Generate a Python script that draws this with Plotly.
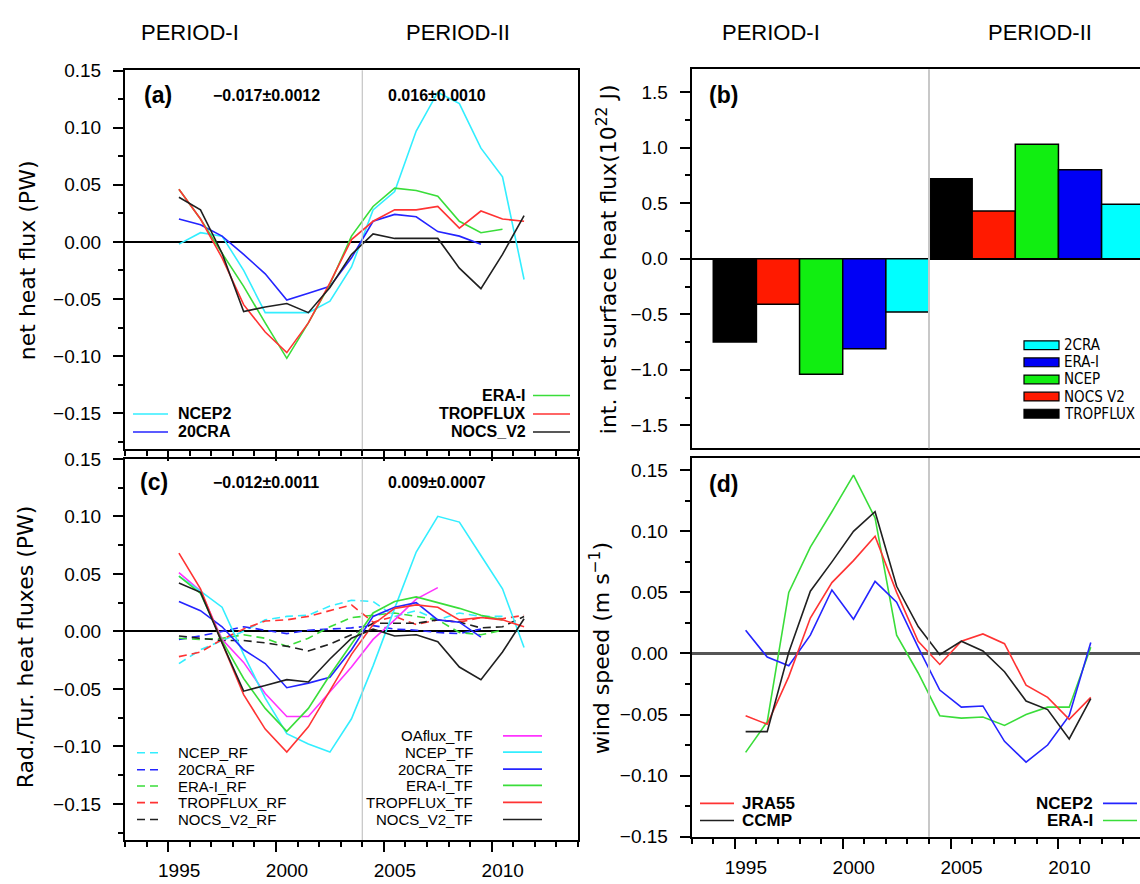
import plotly.graph_objects as go

W, H = 1140, 884


def px(x):
    return x / W


def py(y):
    return 1 - y / H


# ---------------- data ----------------
YEARS = [1995.5, 1996.5, 1997.5, 1998.5, 1999.5, 2000.5, 2001.5, 2002.5, 2003.5,
         2004.5, 2005.5, 2006.5, 2007.5, 2008.5, 2009.5, 2010.5, 2011.5]

# Panel (a) net heat flux (PW)
A_NCEP2 = [-0.002, 0.008, 0.005, -0.025, -0.062, -0.062, -0.062, -0.052, -0.022,
           0.028, 0.044, 0.097, 0.131, 0.121, 0.082, 0.057, -0.033]
A_20CRA = [0.020, 0.015, 0.005, -0.011, -0.028, -0.051, -0.045, -0.039, -0.014,
           0.018, 0.024, 0.022, 0.009, 0.005, -0.002]
A_ERAI = [0.046, 0.020, -0.010, -0.039, -0.071, -0.102, -0.071, -0.037, 0.005,
          0.031, 0.047, 0.045, 0.040, 0.018, 0.008, 0.011]
A_TROPFLUX = [0.046, 0.020, -0.014, -0.055, -0.079, -0.097, -0.071, -0.036, 0.002,
              0.018, 0.028, 0.028, 0.031, 0.012, 0.027, 0.020, 0.018]
A_NOCS = [0.039, 0.028, -0.010, -0.061, -0.057, -0.054, -0.062, -0.040, -0.011,
          0.007, 0.003, 0.003, 0.003, -0.023, -0.041, -0.011, 0.023]

# Panel (b) integrated net surface heat flux (1e22 J)
B_DATASETS = ["TROPFLUX", "NOCS V2", "NCEP", "ERA-I", "2CRA"]
B_PERIOD1 = [-0.75, -0.41, -1.04, -0.81, -0.48]
B_PERIOD2 = [0.72, 0.43, 1.03, 0.80, 0.49]

# Panel (c) radiative (RF) / turbulent (TF) heat fluxes (PW)
C_OAFLUX_TF = [0.051, 0.035, -0.007, -0.027, -0.054, -0.074, -0.074, -0.052, -0.031,
               -0.007, 0.010, 0.028, 0.038]
C_NCEP_TF = [0.048, 0.035, 0.021, -0.020, -0.058, -0.089, -0.098, -0.105, -0.076,
             -0.030, 0.020, 0.069, 0.100, 0.095, 0.066, 0.037, -0.014]
C_20CRA_TF = [0.026, 0.018, 0.004, -0.016, -0.028, -0.049, -0.045, -0.040, -0.016,
              0.013, 0.021, 0.025, 0.010, 0.008, -0.005]
C_ERAI_TF = [0.048, 0.033, -0.008, -0.041, -0.067, -0.087, -0.067, -0.038, -0.011,
             0.016, 0.026, 0.030, 0.025, 0.020, 0.014, 0.010]
C_TROPFLUX_TF = [0.068, 0.037, -0.010, -0.055, -0.085, -0.105, -0.083, -0.052, -0.020,
                 0.006, 0.020, 0.023, 0.021, 0.010, 0.012, 0.010, 0.004]
C_NOCS_TF = [0.042, 0.034, -0.010, -0.052, -0.047, -0.042, -0.044, -0.024, -0.006,
             0.002, -0.004, -0.003, -0.009, -0.031, -0.042, -0.018, 0.011]
C_NCEP_RF = [-0.028, -0.016, -0.008, 0.000, 0.010, 0.013, 0.014, 0.022, 0.027,
             0.026, 0.013, 0.018, 0.010, 0.016, 0.013, 0.013]
C_20CRA_RF = [-0.007, -0.004, 0.000, 0.004, 0.001, -0.002, 0.001, 0.002, 0.003,
              0.005, 0.002, 0.001, -0.001, -0.002, 0.002]
C_ERAI_RF = [-0.006, -0.007, -0.006, -0.003, -0.006, -0.013, -0.006, 0.004, 0.012,
             0.014, 0.016, 0.013, 0.010, -0.001, -0.003, 0.001]
C_TROPFLUX_RF = [-0.022, -0.018, -0.007, 0.002, 0.009, 0.010, 0.013, 0.018, 0.023,
                 0.008, 0.013, 0.006, 0.010, 0.008, 0.012, 0.011, 0.014]
C_NOCS_RF = [-0.004, -0.006, -0.008, -0.008, -0.010, -0.013, -0.017, -0.011, -0.003,
             0.007, 0.007, 0.007, 0.010, 0.008, 0.003, 0.004, 0.013]

# Panel (d) wind speed (m s-1)
D_JRA55 = [-0.051, -0.058, -0.019, 0.029, 0.058, 0.076, 0.096, 0.050, 0.010,
           -0.009, 0.010, 0.016, 0.008, -0.026, -0.036, -0.054, -0.036]
D_CCMP = [-0.064, -0.064, 0.001, 0.051, 0.075, 0.100, 0.116, 0.055, 0.022,
          -0.001, 0.010, 0.002, -0.015, -0.039, -0.046, -0.070, -0.037]
D_NCEP2 = [0.019, -0.003, -0.010, 0.015, 0.052, 0.028, 0.059, 0.042, 0.005,
           -0.030, -0.044, -0.043, -0.072, -0.089, -0.075, -0.051, 0.009]
D_ERAI = [-0.081, -0.056, 0.050, 0.087, 0.116, 0.146, 0.111, 0.015, -0.016,
          -0.051, -0.053, -0.052, -0.059, -0.050, -0.044, -0.044, 0.005]

PERIOD_LABELS = ["PERIOD-I", "PERIOD-II"]
TRENDS_A = ["\u22120.017\u00b10.0012", "0.016\u00b10.0010"]
TRENDS_C = ["\u22120.012\u00b10.0011", "0.009\u00b10.0007"]

# ---------------- styles ----------------
CYAN = "#33EEFF"
BLUE = "#2424FF"
GREEN = "#3ADD3A"
RED = "#FF3333"
BLACK = "#202020"
MAGENTA = "#FF33FF"
BAR_COLORS = ["#000000", "#FF1A00", "#11EE11", "#0000F5", "#00FFFF"]

SANS = "Liberation Sans, Arial, Helvetica, sans-serif"
NARROW = "Liberation Sans Narrow, Arial Narrow, DejaVu Sans Condensed, Liberation Sans, sans-serif"
TITLE = "DejaVu Sans, Verdana, sans-serif"
TICKFONT = dict(family=SANS, size=19, color="black")

fig = go.Figure()


def add_line(xa, ya, vals, color, dash="solid", width=1.6):
    fig.add_trace(go.Scatter(
        x=YEARS[:len(vals)], y=vals, mode="lines", xaxis=xa, yaxis=ya,
        line=dict(color=color, width=width, dash=dash),
        showlegend=False, hoverinfo="skip"))


DASH = "8px,5px"

# panel (a)
for vals, col in [(A_NCEP2, CYAN), (A_20CRA, BLUE), (A_ERAI, GREEN),
                  (A_TROPFLUX, RED), (A_NOCS, BLACK)]:
    add_line("x", "y", vals, col)

# panel (c)
for vals, col in [(C_NCEP_RF, CYAN), (C_20CRA_RF, BLUE), (C_ERAI_RF, GREEN),
                  (C_TROPFLUX_RF, RED), (C_NOCS_RF, BLACK)]:
    add_line("x3", "y3", vals, col, dash=DASH)
for vals, col in [(C_OAFLUX_TF, MAGENTA), (C_NCEP_TF, CYAN), (C_20CRA_TF, BLUE),
                  (C_ERAI_TF, GREEN), (C_TROPFLUX_TF, RED), (C_NOCS_TF, BLACK)]:
    add_line("x3", "y3", vals, col)

# panel (d)
for vals, col in [(D_ERAI, GREEN), (D_NCEP2, BLUE), (D_JRA55, RED), (D_CCMP, BLACK)]:
    add_line("x4", "y4", vals, col)

# panel (b) bars
B_CATS = ["I " + d for d in B_DATASETS] + ["II " + d for d in B_DATASETS]
fig.add_trace(go.Bar(
    x=B_CATS, y=B_PERIOD1 + B_PERIOD2, xaxis="x2", yaxis="y2", width=1,
    marker=dict(color=BAR_COLORS + BAR_COLORS, line=dict(color="black", width=1.5)),
    showlegend=False, hoverinfo="skip"))

# ---------------- axes ----------------
XA_DOM = [px(125), px(578)]
XB_DOM = [px(691.7), 1.0]
B_RIGHT_YEAR = 1993 + (W - 691.7) / (453 / 21)


def xaxis(domain, anchor, rng, labels):
    return dict(domain=domain, anchor=anchor, range=rng, showgrid=False, zeroline=False,
                showline=True, linecolor="black", linewidth=2, mirror=True,
                ticks="outside", ticklen=10, tickwidth=2, tickcolor="black",
                tick0=2000, dtick=5, showticklabels=labels, tickfont=TICKFONT,
                ticklabelshift=11, ticklabelstandoff=2,
                minor=dict(ticks="outside", dtick=1, ticklen=5, tickwidth=2,
                           tickcolor="black", showgrid=False))


def yaxis(domain, anchor, rng, dtick, minor, fmt, mirror, zcol="black", zw=2):
    return dict(domain=domain, anchor=anchor, range=rng, showgrid=False,
                zeroline=True, zerolinecolor=zcol, zerolinewidth=zw,
                showline=True, linecolor="black", linewidth=2, mirror=mirror,
                ticks="outside", ticklen=10, tickwidth=1.5, tickcolor="black",
                tick0=0, dtick=dtick, tickformat=fmt, tickfont=TICKFONT,
                ticklabelstandoff=8,
                minor=dict(ticks="outside", dtick=minor, ticklen=5, tickwidth=1.5,
                           tickcolor="black", showgrid=False))


fig.update_layout(
    width=W, height=H, margin=dict(l=0, r=0, t=0, b=0),
    paper_bgcolor="white", plot_bgcolor="white", barmode="overlay",
    font=dict(family=SANS, color="black"),
    xaxis=xaxis(XA_DOM, "y", [1993, 2014], False),
    yaxis=yaxis([py(449.3), py(61.7)], "x", [-0.1815, 0.1502], 0.05, 0.025, ".2f", True),
    xaxis3=xaxis(XA_DOM, "y3", [1993, 2014], True),
    yaxis3=yaxis([py(849.3), py(459)], "x3", [-0.1815, 0.1502], 0.05, 0.025, ".2f", True),
    xaxis4=xaxis(XB_DOM, "y4", [1993, B_RIGHT_YEAR], True),
    yaxis4=yaxis([py(846), py(458.3)], "x4", [-0.1502, 0.1601], 0.05, 0.025, ".2f", False,
                 zcol="#555555", zw=2.5),
    xaxis2=dict(domain=XB_DOM, anchor="y2", type="category", categoryorder="array",
                categoryarray=B_CATS, range=[-1, 9.39], showgrid=False, zeroline=False,
                showline=True, linecolor="black", linewidth=2, mirror=True,
                ticks="", showticklabels=False),
    yaxis2=yaxis([py(448.3), py(60.7)], "x2", [-1.705, 1.705], 0.5, 0.25, ".1f", False),
)

shapes = []
# period dividers
shapes.append(dict(type="line", xref="x", yref="y domain", x0=2004, x1=2004, y0=0, y1=1,
                   line=dict(color="#c4c4c4", width=1.2)))
shapes.append(dict(type="line", xref="x3", yref="y3 domain", x0=2004, x1=2004, y0=0, y1=1,
                   line=dict(color="#c4c4c4", width=1.2)))
shapes.append(dict(type="line", xref="x2", yref="y2 domain", x0=4.5, x1=4.5, y0=0, y1=1,
                   line=dict(color="#c8c8c8", width=2)))
shapes.append(dict(type="line", xref="x4", yref="y4 domain", x0=2004, x1=2004, y0=0, y1=1,
                   line=dict(color="#c8c8c8", width=2)))

annotations = []


def text(x, y, s, size, family=SANS, xanchor="center", angle=0, bold=False):
    annotations.append(dict(
        x=px(x), y=py(y), xref="paper", yref="paper", text=("<b>%s</b>" % s) if bold else s,
        showarrow=False, xanchor=xanchor, yanchor="middle", textangle=angle, borderpad=0,
        font=dict(family=family, size=size, color="black")))


def legend_line(x0, x1, y, color, dash="solid"):
    shapes.append(dict(type="line", xref="paper", yref="paper", x0=px(x0), x1=px(x1),
                       y0=py(y), y1=py(y), line=dict(color=color, width=1.6, dash=dash)))


# headers
for cx, lab in zip([190, 458], PERIOD_LABELS):
    text(cx, 23, lab, 22)
for cx, lab in zip([771, 1040], PERIOD_LABELS):
    text(cx, 23, lab, 22)

# panel labels and trends
text(158, 87, "(a)", 23, bold=True)
text(266, 87, TRENDS_A[0], 16, bold=True)
text(437, 87, TRENDS_A[1], 16, bold=True)
text(723, 87, "(b)", 23, bold=True)
text(154, 483, "(c)", 23, bold=True)
text(266, 483, TRENDS_C[0], 16, bold=True)
text(437, 483, TRENDS_C[1], 16, bold=True)
text(723, 485, "(d)", 23, bold=True)

# y titles
text(27, 256, "net heat flux (PW)", 22, family=TITLE, angle=-90)
text(25, 652, "Rad./Tur. heat fluxes (PW)", 22, family=TITLE, angle=-90)
text(607, 255, "int. net surface heat flux(10<sup>22</sup> J)", 22, family=TITLE, angle=-90)
text(600, 653, "wind speed (m s<sup>\u22121</sup>)", 22, family=TITLE, angle=-90)

# legend (a)
for y, lab, col in [(413.3, "NCEP2", CYAN), (431.7, "20CRA", BLUE)]:
    legend_line(133, 168, y, col)
    text(177, y, lab, 16, xanchor="left", bold=True)
for y, lab, col in [(394.5, "ERA-I", GREEN), (413.3, "TROPFLUX", RED), (431.7, "NOCS_V2", BLACK)]:
    legend_line(533, 570, y, col)
    text(527, y, lab, 16, xanchor="right", bold=True)

# legend (c)
for y, lab, col in [(760, "NCEP_RF", CYAN), (777.3, "20CRA_RF", BLUE), (794, "ERA-I_RF", GREEN),
                    (811, "TROPFLUX_RF", RED), (828.3, "NOCS_V2_RF", BLACK)]:
    legend_line(137, 160, y, col, dash="8px,5px")
    text(177, y, lab, 15, xanchor="left")
for y, lab, col in [(742.7, "OAflux_TF", MAGENTA), (759.3, "NCEP_TF", CYAN),
                    (776.7, "20CRA_TF", BLUE), (793.3, "ERA-I_TF", GREEN),
                    (810.7, "TROPFLUX_TF", RED), (828.3, "NOCS_V2_TF", BLACK)]:
    legend_line(503, 542, y, col)
    text(473.5, y, lab, 15, xanchor="right")

# legend (d)
for y, lab, col in [(811.7, "JRA55", RED), (829.3, "CCMP", BLACK)]:
    legend_line(700, 734, y, col)
    text(741, y, lab, 17, xanchor="left", bold=True)
for y, lab, col in [(811.7, "NCEP2", BLUE), (829.3, "ERA-I", GREEN)]:
    legend_line(1103, 1137, y, col)
    text(1094, y, lab, 17, xanchor="right", bold=True)

# legend (b): boxes
B_LEG = list(zip(B_DATASETS, BAR_COLORS))[::-1]
for i, (lab, col) in enumerate(B_LEG):
    yc = 343 + 17.5 * i
    shapes.append(dict(type="rect", xref="paper", yref="paper", x0=px(1024), x1=px(1059),
                       y0=py(yc + 4.5), y1=py(yc - 4.5), fillcolor=col,
                       line=dict(color="black", width=1.2)))
    text(1063, yc, lab, 15, family=NARROW, xanchor="left")

fig.update_layout(shapes=shapes, annotations=annotations)
fig.write_html("out.html")
